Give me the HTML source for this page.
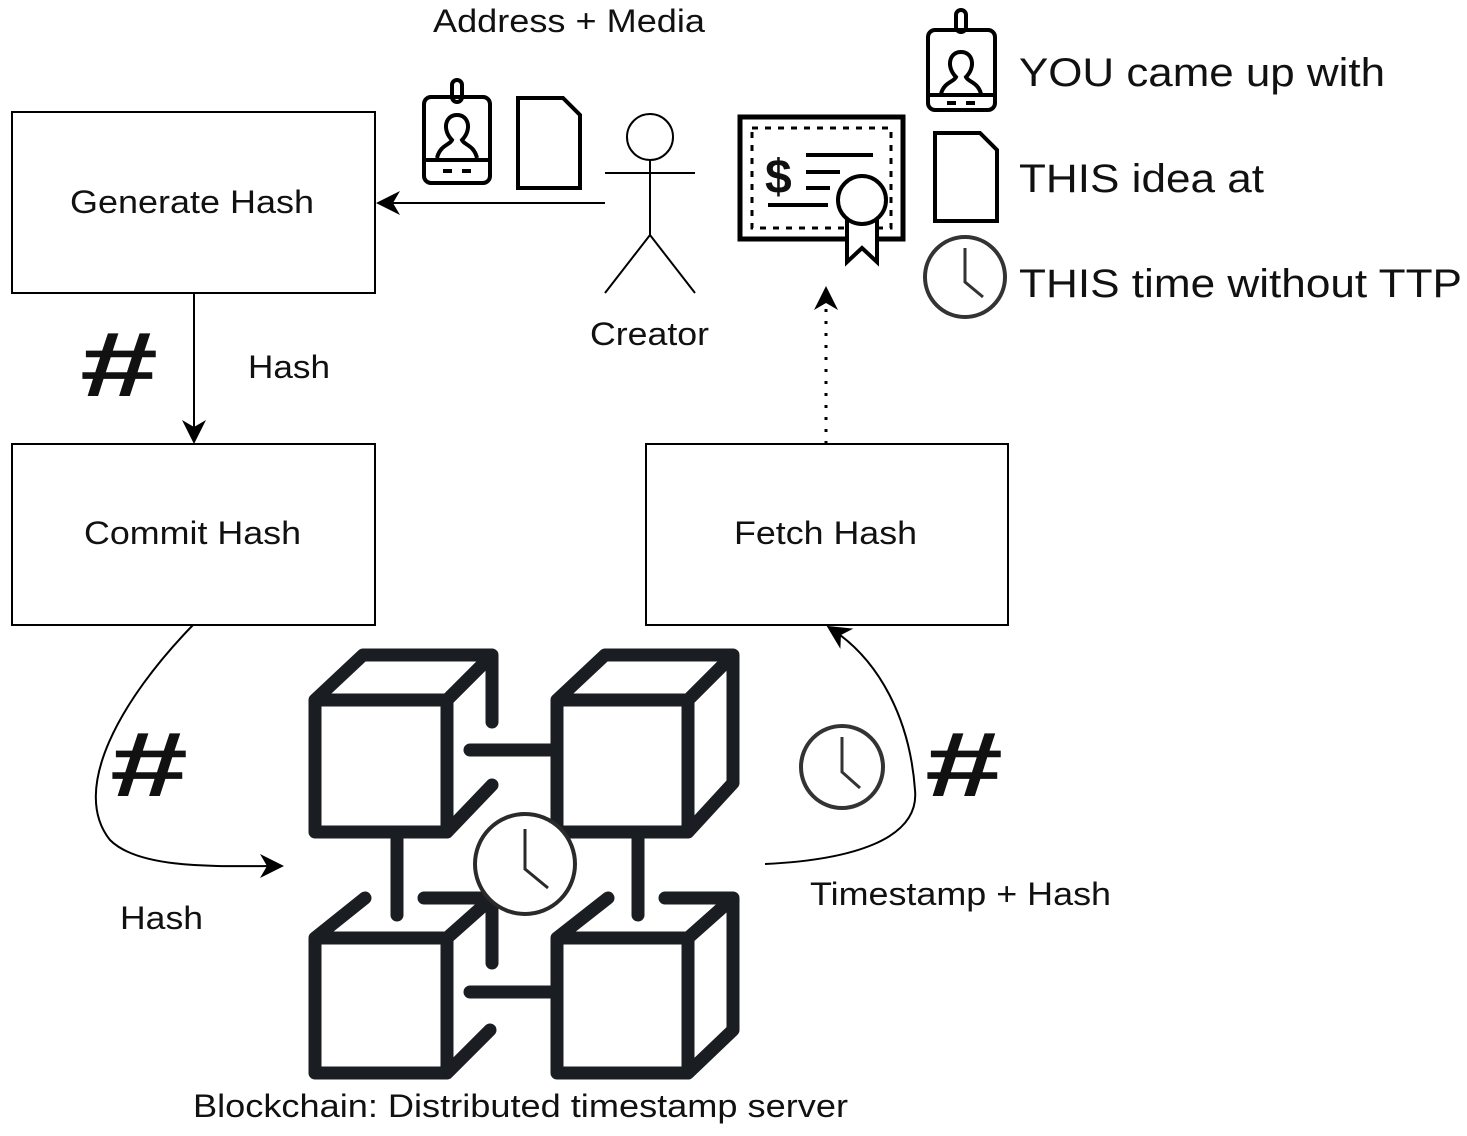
<!DOCTYPE html>
<html><head><style>body{margin:0;background:#fff}svg{display:block}text{font-family:"Liberation Sans",sans-serif;fill:#111}</style></head><body>
<svg width="1467" height="1136" viewBox="0 0 1467 1136" xmlns="http://www.w3.org/2000/svg">
<defs>
<marker id="b" markerWidth="24" markerHeight="24" refX="20" refY="12" orient="auto" markerUnits="userSpaceOnUse"><path d="M0,0 L24,12 L0,24 L7,12 z" fill="#000"/></marker></defs>
<g fill="none" stroke="#000" stroke-width="2">
<rect x="12" y="112" width="363" height="181"/>
<rect x="12" y="444" width="363" height="181"/>
<rect x="646" y="444" width="362" height="181"/>
<line x1="605" y1="203" x2="380" y2="203" marker-end="url(#b)"/>
<line x1="194" y1="293" x2="194" y2="440" marker-end="url(#b)"/>
<path d="M193,625 C120,700 70,790 110,840 C140,870 220,866 280,866" marker-end="url(#b)"/>
<path d="M765,864 C850,860 920,840 915,790 C910,720 880,660 830,628" marker-end="url(#b)"/>
<line x1="826" y1="444" x2="826" y2="290" stroke-dasharray="3,9" stroke-width="3" marker-end="url(#b)"/>
</g>
<g fill="none" stroke="#1a1d21" stroke-width="13" stroke-linecap="round" stroke-linejoin="round">
<path d="M315,832 V700 H447 V832 Z M315,700 L363,655 H492 V722 M447,700 L492,655 M447,832 L492,785"/>
<path d="M557,832 V700 H688 V832 Z M557,700 L605,655 H733 V783 L688,832 M688,700 L733,655"/>
<path d="M315,1073 V938 H447 V1073 Z M315,938 L365,898 M424,898 H492 V963 M447,938 L492,898 M447,1073 L490,1030"/>
<path d="M557,1073 V938 H688 V1073 Z M557,938 L608,898 M665,898 H733 V1030 L688,1073 M688,938 L733,898"/>
<path d="M470,750 H557 M470,992 H557 M397,832 V915 M638,832 V915"/>
</g>
<circle cx="525" cy="864" r="50" fill="#fff" stroke="#2a2a2a" stroke-width="4"/>
<path d="M525,829 V869 L548,888" fill="none" stroke="#2a2a2a" stroke-width="3"/>
<circle cx="842" cy="767" r="41" fill="none" stroke="#333" stroke-width="4"/>
<path d="M842,737 V772 L860,788" fill="none" stroke="#333" stroke-width="3"/>
<circle cx="965" cy="277" r="40" fill="none" stroke="#333" stroke-width="4"/>
<path d="M965,248 V282 L983,297" fill="none" stroke="#333" stroke-width="3"/>
<g fill="none" stroke="#000" stroke-width="4">
<rect x="424" y="97" width="66" height="86" rx="7"/><line x1="424" y1="160" x2="490" y2="160"/><rect x="452" y="80" width="10" height="22" rx="5"/>
<path d="M437,158 C440,145 450,145 452,140 C442,130 445,115 457,115 C469,115 472,130 462,140 C464,145 474,145 477,158"/>
<line x1="443" y1="171" x2="452" y2="171"/><line x1="462" y1="171" x2="471" y2="171"/>
<rect x="928" y="30" width="67" height="80" rx="7"/><line x1="928" y1="95" x2="995" y2="95"/><rect x="956" y="10" width="10" height="22" rx="5"/>
<path d="M941,94 C944,82 954,82 956,77 C946,67 949,52 961,52 C973,52 976,67 966,77 C968,82 978,82 981,94"/>
<line x1="947" y1="103" x2="956" y2="103"/><line x1="966" y1="103" x2="975" y2="103"/>
<path d="M518,98 H563 L580,115 V188 H518 Z"/>
<path d="M935,133 H980 L997,150 V221 H935 Z"/>
<rect x="740" y="117" width="163" height="122" stroke-width="5"/>
<rect x="752" y="128" width="139" height="100" stroke-dasharray="6,7" stroke-width="3"/>
<line x1="806" y1="155" x2="873" y2="155"/><line x1="806" y1="172" x2="840" y2="172"/><line x1="806" y1="188" x2="830" y2="188"/><line x1="768" y1="205" x2="828" y2="205"/>
<path d="M847,218 V262 L862,248 L877,262 V218" fill="#fff"/>
<circle cx="862" cy="200" r="24" fill="#fff"/>
</g>
<text x="765" y="193" font-size="48" font-weight="bold">$</text>
<g fill="none" stroke="#000" stroke-width="2">
<circle cx="650" cy="137" r="23"/><line x1="650" y1="160" x2="650" y2="235"/><line x1="605" y1="173" x2="695" y2="173"/><path d="M605,293 L650,235 L695,293"/>
</g>
<g font-size="32" lengthAdjust="spacingAndGlyphs">
<text x="433" y="32" textLength="272" lengthAdjust="spacingAndGlyphs">Address + Media</text>
<text x="70" y="213" textLength="244" lengthAdjust="spacingAndGlyphs">Generate Hash</text>
<text x="84" y="544" textLength="217" lengthAdjust="spacingAndGlyphs">Commit Hash</text>
<text x="734" y="544" textLength="183" lengthAdjust="spacingAndGlyphs">Fetch Hash</text>
<text x="248" y="378" textLength="82" lengthAdjust="spacingAndGlyphs">Hash</text>
<text x="590" y="345" textLength="119" lengthAdjust="spacingAndGlyphs">Creator</text>
<text x="120" y="929" textLength="83" lengthAdjust="spacingAndGlyphs">Hash</text>
<text x="810" y="905" textLength="301" lengthAdjust="spacingAndGlyphs">Timestamp + Hash</text>
<text x="193" y="1117" textLength="655" lengthAdjust="spacingAndGlyphs">Blockchain: Distributed timestamp server</text>
</g>
<g font-size="40">
<text x="1019" y="86" textLength="366" lengthAdjust="spacingAndGlyphs">YOU came up with</text>
<text x="1019" y="192" textLength="245" lengthAdjust="spacingAndGlyphs">THIS idea at</text>
<text x="1019" y="297" textLength="443" lengthAdjust="spacingAndGlyphs">THIS time without TTP</text>
</g>
<g font-size="92" font-weight="bold">
<text x="80" y="396" textLength="78" lengthAdjust="spacingAndGlyphs">#</text>
<text x="110" y="796" textLength="78" lengthAdjust="spacingAndGlyphs">#</text>
<text x="925" y="796" textLength="78" lengthAdjust="spacingAndGlyphs">#</text>
</g>
</svg>
</body></html>
